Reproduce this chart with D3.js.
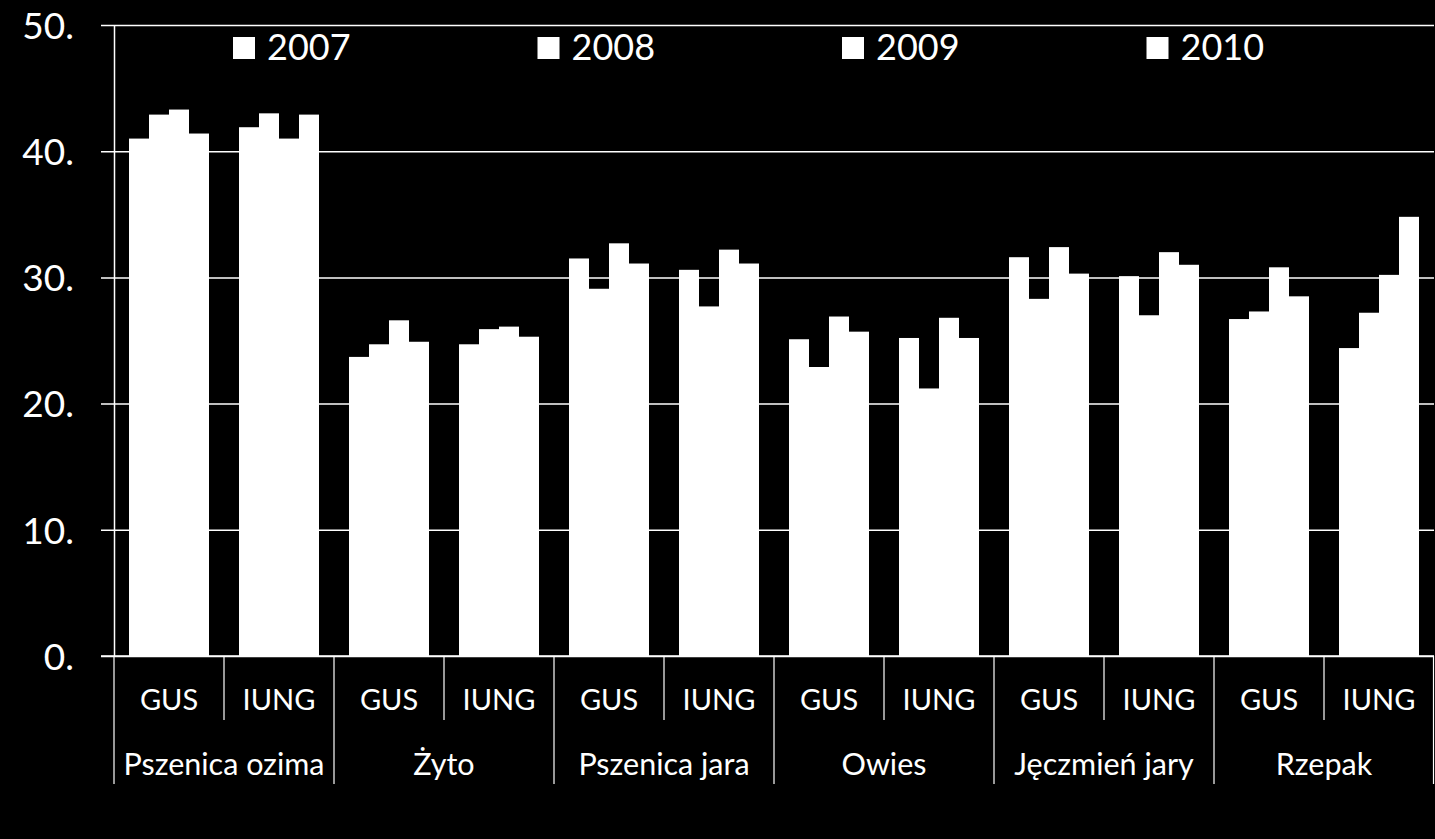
<!DOCTYPE html>
<html>
<head>
<meta charset="utf-8">
<script src="https://cdn.jsdelivr.net/npm/d3@7"></script>
<style>
  html, body { margin: 0; padding: 0; background: #000; }
  svg { display: block; }
</style>
</head>
<body>
<svg id="chart" width="1435" height="839"></svg>
<script>
// plony wg GUS i IUNG, 2007–2010
const crops   = ['Pszenica ozima', 'Żyto', 'Pszenica jara', 'Owies', 'Jęczmień jary', 'Rzepak'];
const sources = ['GUS', 'IUNG'];
const years   = ['2007', '2008', '2009', '2010'];

const v2007 = [41.0, 41.9, 23.7, 24.7, 31.5, 30.6, 25.1, 25.2, 31.6, 30.1, 26.7, 24.4];
const v2008 = [42.9, 43.0, 24.7, 25.9, 29.1, 27.7, 22.9, 21.2, 28.3, 27.0, 27.3, 27.2];
const v2009 = [43.3, 41.0, 26.6, 26.1, 32.7, 32.2, 26.9, 26.8, 32.4, 32.0, 30.8, 30.2];
const v2010 = [41.4, 42.9, 24.9, 25.3, 31.1, 31.1, 25.7, 25.2, 30.3, 31.0, 28.5, 34.8];

const yTicks = [0, 10, 20, 30, 40, 50];

const series = [v2007, v2008, v2009, v2010];
const FONT = 'Lato, "Open Sans", sans-serif';

// one row per GUS/IUNG column
const rows = [];
crops.forEach((c, ci) => sources.forEach((s, si) => {
  const i = ci * sources.length + si;
  rows.push({ key: c + '|' + s, crop: c, source: s, values: years.map((yr, k) => ({ year: yr, v: series[k][i] })) });
}));

const svg = d3.select('#chart');
const M = { left: 114, right: 1434, top: 25, bottom: 656 };

const x0 = d3.scaleBand().domain(rows.map(d => d.key)).range([M.left, M.right]).padding(0);
const x1 = d3.scaleBand().domain(years).range([0, x0.bandwidth()]).paddingInner(0).paddingOuter(0.75);
const xCrop = d3.scaleBand().domain(crops).range([M.left, M.right]).padding(0);
const y = d3.scaleLinear().domain([0, 50]).range([M.bottom, M.top]);

// y axis + gridlines
const yAxis = svg.append('g')
  .attr('transform', `translate(${M.left},0)`)
  .call(d3.axisLeft(y).tickValues(yTicks).tickSizeInner(13).tickSizeOuter(0).tickPadding(27).tickFormat(d => d + '.'));
yAxis.select('.domain').attr('stroke', '#fff').attr('stroke-width', 1.5);
yAxis.selectAll('.tick line').attr('stroke', '#fff').attr('stroke-width', 1.5)
  .attr('x1', -13).attr('x2', M.right - M.left);
yAxis.selectAll('.tick text')
  .attr('fill', '#fff').attr('font-family', FONT).attr('font-size', 37).attr('dy', '0.36em');

// bars
const grp = svg.append('g').selectAll('g').data(rows).join('g')
  .attr('transform', d => `translate(${x0(d.key)},0)`);
grp.selectAll('rect').data(d => d.values).join('rect')
  .attr('x', d => x1(d.year))
  .attr('width', x1.bandwidth())
  .attr('y', d => y(d.v))
  .attr('height', d => y(0) - y(d.v))
  .attr('fill', '#fff');

// baseline
svg.append('line').attr('x1', M.left - 13).attr('x2', M.right).attr('y1', M.bottom).attr('y2', M.bottom)
  .attr('stroke', '#fff').attr('stroke-width', 1.5);

// category separators — short between GUS/IUNG, long between crops
rows.forEach((d, i) => {
  const long = i % sources.length === 0;
  svg.append('line')
    .attr('x1', x0(d.key)).attr('x2', x0(d.key))
    .attr('y1', M.bottom).attr('y2', long ? 784 : 720)
    .attr('stroke', '#fff').attr('stroke-width', 1.2);
});
svg.append('line').attr('x1', M.right - 0.5).attr('x2', M.right - 0.5).attr('y1', M.bottom).attr('y2', 784)
  .attr('stroke', '#fff').attr('stroke-width', 1.2);

// source labels
svg.append('g').selectAll('text').data(rows).join('text')
  .attr('x', d => x0(d.key) + x0.bandwidth() / 2)
  .attr('y', 700).attr('dy', '0.36em')
  .attr('text-anchor', 'middle')
  .attr('fill', '#fff').attr('font-family', FONT).attr('font-size', 29)
  .text(d => d.source);

// crop labels
svg.append('g').selectAll('text').data(crops).join('text')
  .attr('x', d => xCrop(d) + xCrop.bandwidth() / 2)
  .attr('y', 764).attr('dy', '0.36em')
  .attr('text-anchor', 'middle')
  .attr('fill', '#fff').attr('font-family', FONT).attr('font-size', 30.5)
  .text(d => d);

// legend
const leg = svg.append('g').selectAll('g').data(years).join('g')
  .attr('transform', (d, i) => `translate(${233 + i * 304.5},0)`);
leg.append('rect').attr('x', 0).attr('y', 37).attr('width', 22).attr('height', 22).attr('fill', '#fff');
leg.append('text').attr('x', 34).attr('y', 47).attr('dy', '0.36em')
  .attr('fill', '#fff').attr('font-family', FONT).attr('font-size', 36)
  .text(d => d);
</script>
</body>
</html>
